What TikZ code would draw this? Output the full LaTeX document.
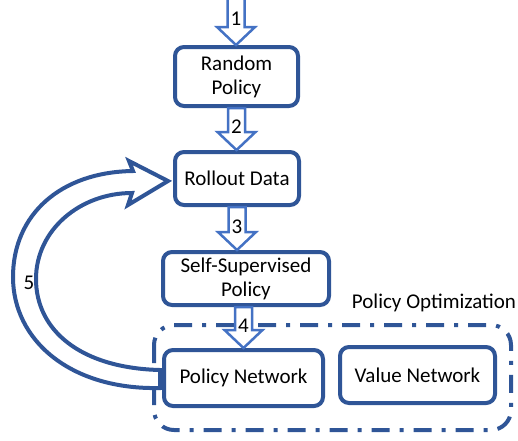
\documentclass[tikz,border=0pt]{standalone}
\usepackage{fontspec}
\setmainfont{Carlito}
\usetikzlibrary{calc}
\definecolor{boxblue}{HTML}{2F5597}
\definecolor{stepblue}{HTML}{4472C4}
\tikzset{
  procbox/.style={draw=boxblue, line width=4pt, rounded corners=9pt, fill=white, align=center, inner sep=0pt},
  steparrow/.style={draw=stepblue, line width=2.5pt, fill=white, line join=miter},
  loopback/.style={draw=boxblue, line width=4pt, fill=white, line join=miter},
  optframe/.style={draw=boxblue, line width=4pt, rounded corners=20pt, dash pattern=on 18pt off 10pt on 4pt off 10pt},
}
% block arrow straight down: name, from, to, label
\newcommand{\flowstep}[4]{%
  \draw[steparrow] let \p1=(#2), \p2=(#3) in
    (\x1-8.5pt,\y1) -- (\x1+8.5pt,\y1) -- (\x1+8.5pt,\y2+18pt) -- (\x1+19pt,\y2+18pt)
    -- (\x1,\y2) -- (\x1-19pt,\y2+18pt) -- (\x1-8.5pt,\y2+18pt) -- cycle;
  \node (#1) at ($(#2)!0.45!(#2|-#3)$) {#4};}
\begin{document}
\begin{tikzpicture}[x=1pt,y=-1pt,font=\fontsize{21}{24}\selectfont]
\useasboundingbox (0,0) rectangle (518,440);
\draw[optframe] (154,325) rectangle (511,430);
\node (optlabel) at (434,303) {Policy Optimization};

\node[procbox, minimum width=123pt, minimum height=59pt] (rand) at (236.5,76.5) {Random\\Policy};
\node[procbox, minimum width=124pt, minimum height=53pt] (rollout) at (237,178.5) {Rollout Data};
\node[procbox, minimum width=166pt, minimum height=53pt] (self) at (246,278.5) {Self-Supervised\\Policy};
\node[procbox, minimum width=159pt, minimum height=56pt] (pnet) at (243.5,378) {Policy Network};
\node[procbox, minimum width=155pt, minimum height=56pt] (vnet) at (417.5,375) {Value Network};

\coordinate (start) at (236,-2);
\coordinate (pnettop) at (self.south -| pnet.north);
\flowstep{s1}{start}{rand.north}{1}
\flowstep{s2}{rand.south}{rollout.north}{2}
\flowstep{s3}{rollout.south}{self.north}{3}
\flowstep{s4}{pnettop}{pnet.north}{4}

% feedback arrow
\coordinate (tailout) at ($(pnet.west)+(-2,10)$);
\coordinate (tailin) at ($(pnet.west)+(-2,-8)$);
\coordinate (tip) at ($(rollout.west)+(-5,2.5)$);
\draw[loopback] (tailout) .. controls (70,390) and (13,340) .. (13,277)
  .. controls (13,215) and (60,172) .. (133,171) -- (129,161) -- (tip)
  -- (128,205) -- (132,193) .. controls (80,193) and (36,230) .. (36,279)
  .. controls (36,330) and (80,368) .. (tailin) -- cycle;
\node (s5) at (29,283) {5};
\end{tikzpicture}
\end{document}
